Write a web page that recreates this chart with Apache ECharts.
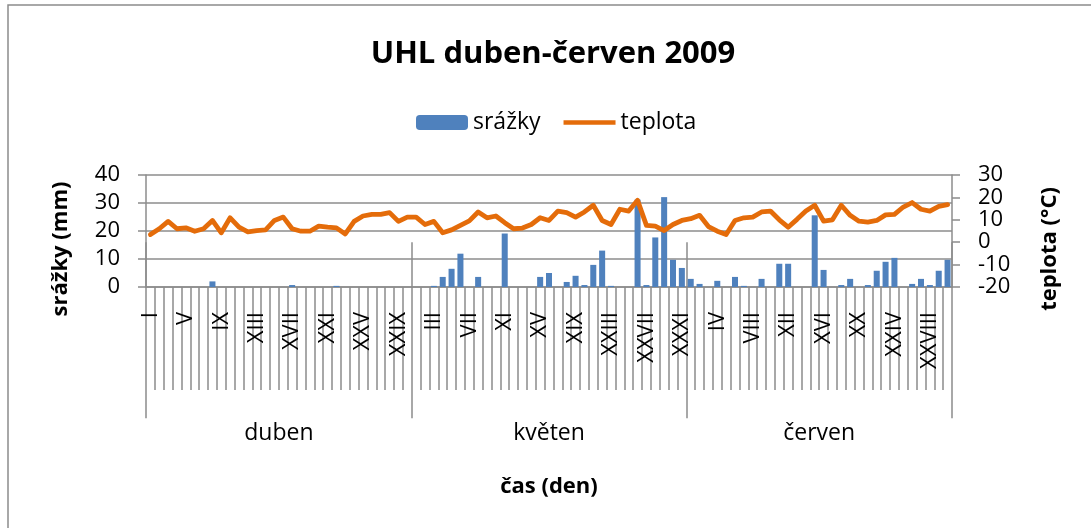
<!DOCTYPE html>
<html>
<head>
<meta charset="utf-8">
<script src="https://cdn.jsdelivr.net/npm/echarts@6/dist/echarts.min.js"></script>
<style>
    html, body { margin: 0; padding: 0; background: #fff; }
    #chart { width: 1091px; height: 528px; }
</style>
</head>
<body>
<div id="chart"></div>
<script>
// měsíce a počet dní
var months = ['duben', 'květen', 'červen'];
var monthDays = [30, 31, 30];
var romanDays = ['I', 'II', 'III', 'IV', 'V', 'VI', 'VII', 'VIII', 'IX', 'X',
    'XI', 'XII', 'XIII', 'XIV', 'XV', 'XVI', 'XVII', 'XVIII', 'XIX', 'XX',
    'XXI', 'XXII', 'XXIII', 'XXIV', 'XXV', 'XXVI', 'XXVII', 'XXVIII', 'XXIX', 'XXX', 'XXXI'];

// srážky (mm)
var srazkyDuben = [0, 0, 0, 0, 0, 0, 0, 2.0, 0, 0, 0, 0, 0, 0, 0, 0, 0.7, 0, 0, 0,
    0, 0.4, 0, 0, 0, 0, 0, 0, 0, 0];
var srazkyKveten = [0, 0, 0.4, 3.6, 6.5, 11.9, 0, 3.6, 0, 0, 19.1, 0, 0, 0, 3.6, 5.0, 0, 1.8, 4.0, 0.7,
    7.9, 13.0, 0.4, 0, 0, 31.2, 0.7, 17.7, 32.1, 9.7, 6.8];
var srazkyCerven = [2.9, 1.1, 0, 2.2, 0, 3.6, 0.4, 0, 2.9, 0, 8.3, 8.3, 0, 0, 25.6, 6.1, 0, 0.7, 2.9, 0,
    0.7, 5.8, 9.0, 10.4, 0, 1.1, 2.9, 0.7, 5.8, 9.7];

// teplota (°C)
var teplotaDuben = [3.4, 6.0, 9.3, 6.0, 6.4, 4.9, 6.0, 9.7, 4.2, 10.9, 6.7, 4.6, 5.2, 5.5, 9.7, 11.2, 6.0, 4.9, 4.9, 7.2,
    6.7, 6.4, 3.7, 9.3, 11.7, 12.4, 12.4, 13.2, 9.3, 11.2];
var teplotaKveten = [11.2, 7.9, 9.3, 4.2, 5.5, 7.5, 9.5, 13.5, 10.9, 11.7, 8.7, 6.0, 6.3, 7.9, 10.9, 9.7, 13.9, 13.2, 11.2, 13.5,
    16.5, 9.7, 7.9, 14.7, 13.9, 18.7, 7.5, 7.2, 5.2, 7.9, 9.7];
var teplotaCerven = [10.5, 12.0, 7.0, 4.9, 3.4, 9.7, 10.9, 11.2, 13.5, 13.9, 10.0, 6.7, 10.2, 13.9, 16.5, 9.4, 10.0, 16.5, 12.0, 9.4,
    9.0, 9.7, 12.2, 12.4, 15.7, 17.7, 14.7, 13.9, 16.0, 16.8];

var FONT = 'Open Sans';
var GRAY = '#8c8c8c';

// kategorie dní a hranice měsíců
var days = [];
var monthBounds = [0];
for (var m = 0; m < months.length; m++) {
    days = days.concat(romanDays.slice(0, monthDays[m]));
    monthBounds.push(monthBounds[m] + monthDays[m]);
}
var monthMids = [];
for (var m = 0; m < months.length; m++) {
    monthMids.push((monthBounds[m] + monthBounds[m + 1]) / 2);
}
var srazky = srazkyDuben.concat(srazkyKveten, srazkyCerven);
var teplota = teplotaDuben.concat(teplotaKveten, teplotaCerven);

var chart = echarts.init(document.getElementById('chart'));
chart.setOption({
    animation: false,
    textStyle: { fontFamily: FONT, color: '#000' },
    graphic: [{
        type: 'rect',
        shape: { x: 8, y: 5, width: 1200, height: 600 },
        style: { fill: 'none', stroke: GRAY, lineWidth: 1.5 },
        silent: true
    }, {
        type: 'text',
        x: 553,
        y: 54,
        style: {
            text: 'UHL duben-červen 2009',
            fontFamily: FONT, fontSize: 31, fontWeight: 'bold', fill: '#000',
            textAlign: 'center', textVerticalAlign: 'middle'
        }
    }],
    legend: {
        left: 416,
        top: 111,
        padding: 0,
        itemWidth: 52,
        itemHeight: 15,
        itemGap: 23,
        textStyle: { fontFamily: FONT, fontSize: 23, color: '#000' },
        data: [
            { name: 'srážky' },
            { name: 'teplota', icon: 'path://M0,0H54V4.5H0Z' }
        ]
    },
    grid: { left: 146, right: 139, top: 175, bottom: 241 },
    xAxis: [{
        type: 'category',
        data: days,
        boundaryGap: true,
        axisLine: { show: true, lineStyle: { color: GRAY, width: 1.5 } },
        axisTick: { show: true, interval: 0, length: 103, lineStyle: { color: GRAY, width: 1.5 } },
        axisLabel: { interval: 3, rotate: 90, margin: 25, fontSize: 22, color: '#000', fontFamily: FONT }
    }, {
        type: 'value',
        position: 'bottom',
        min: 0,
        max: monthBounds[monthBounds.length - 1],
        axisLine: { show: false },
        splitLine: { show: false },
        axisTick: { show: true, customValues: monthBounds, length: 176, lineStyle: { color: GRAY, width: 1.5 } },
        axisLabel: {
            customValues: monthMids,
            margin: 135,
            fontSize: 23,
            color: '#000',
            fontFamily: FONT,
            formatter: function (v) { return months[monthMids.indexOf(v)]; }
        },
        name: 'čas (den)',
        nameLocation: 'middle',
        nameGap: 189,
        nameTextStyle: { fontSize: 22, fontWeight: 'bold', color: '#000', fontFamily: FONT }
    }],
    yAxis: [{
        type: 'value',
        min: 0,
        max: 40,
        interval: 10,
        position: 'left',
        name: 'srážky (mm)',
        nameLocation: 'middle',
        nameRotate: 90,
        nameGap: 74,
        nameTextStyle: { fontSize: 22, fontWeight: 'bold', color: '#000', fontFamily: FONT, padding: [0, 36, 0, 0] },
        axisLine: { show: true, lineStyle: { color: GRAY, width: 1.5 } },
        axisTick: { show: true, length: 8, lineStyle: { color: GRAY, width: 1.5 } },
        axisLabel: { margin: 26, fontSize: 22, color: '#000', fontFamily: FONT },
        splitLine: { show: true, lineStyle: { color: GRAY, width: 1.5 } }
    }, {
        type: 'value',
        min: -20,
        max: 30,
        interval: 10,
        position: 'right',
        name: 'teplota (°C)',
        nameLocation: 'middle',
        nameRotate: 90,
        nameGap: 87,
        nameTextStyle: { fontSize: 22, fontWeight: 'bold', color: '#000', fontFamily: FONT, padding: [0, 36, 0, 0] },
        axisLine: { show: true, lineStyle: { color: GRAY, width: 1.5 } },
        axisTick: { show: true, length: 8, lineStyle: { color: GRAY, width: 1.5 } },
        axisLabel: { margin: 26, fontSize: 22, color: '#000', fontFamily: FONT },
        splitLine: { show: false }
    }],
    series: [{
        name: 'srážky',
        type: 'bar',
        xAxisIndex: 0,
        yAxisIndex: 0,
        data: srazky,
        barCategoryGap: '32%',
        itemStyle: { color: '#4F81BD' }
    }, {
        name: 'teplota',
        type: 'line',
        xAxisIndex: 0,
        yAxisIndex: 1,
        data: teplota,
        symbol: 'none',
        z: 5,
        lineStyle: { color: '#E46C0A', width: 4.8, cap: 'round', join: 'round' },
        itemStyle: { color: '#E46C0A' }
    }]
});
</script>
</body>
</html>
